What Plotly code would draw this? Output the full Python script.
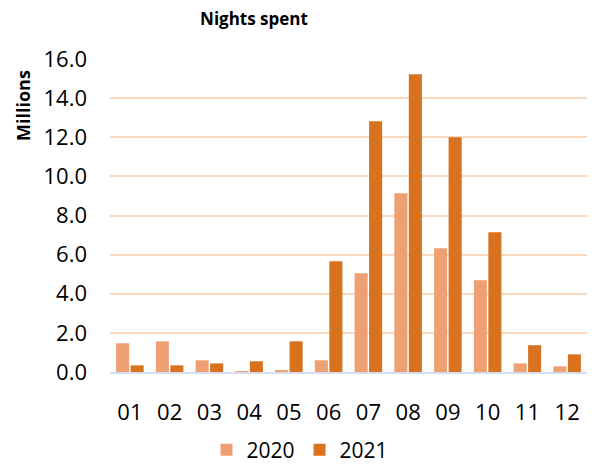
import plotly.graph_objects as go

months = ["01", "02", "03", "04", "05", "06", "07", "08", "09", "10", "11", "12"]
nights_2020 = [1.47, 1.57, 0.60, 0.04, 0.10, 0.60, 5.05, 9.14, 6.32, 4.69, 0.44, 0.29]
nights_2021 = [0.34, 0.34, 0.44, 0.55, 1.57, 5.66, 12.82, 15.22, 12.00, 7.14, 1.37, 0.90]
y_ticks = [0, 2, 4, 6, 8, 10, 12, 14, 16]

FONT = "Open Sans, sans-serif"

# the page body adds an 8px offset; work in window pixels and convert
OFF = 8
W, H = 598 - 2 * OFF, 472 - 2 * OFF
PL, PR, PT, PB = 110, 587, 59, 372          # plot area in window pixels
L, R, T, B = PL - OFF, W - (PR - OFF), PT - OFF, H - (PB - OFF)
PW, PH = W - L - R, H - T - B


def px(xw):
    return (xw - PL) / PW


def py(yw):
    return (PB - yw) / PH


fig = go.Figure()
fig.add_trace(go.Bar(x=months, y=nights_2020, name="2020",
                     marker=dict(color="#EFA073", line=dict(width=0))))
fig.add_trace(go.Bar(x=months, y=nights_2021, name="2021",
                     marker=dict(color="#D9721F", line=dict(width=0))))

fig.update_layout(
    width=W, height=H,
    margin=dict(l=L, r=R, t=T, b=B, autoexpand=False),
    paper_bgcolor="white", plot_bgcolor="white",
    font=dict(family=FONT, color="#000000"),
    barmode="group", bargap=0.27, bargroupgap=0.1,
    title=dict(text="<b>Nights spent</b>", x=(254 - OFF) / W, xref="container", xanchor="center",
               y=1 - (19 - OFF) / H, yref="container", yanchor="middle",
               font=dict(size=17, family=FONT)),
    legend=dict(orientation="h", x=px(300), xanchor="center",
                y=py(450), yanchor="middle",
                font=dict(size=21, family=FONT), itemwidth=30,
                traceorder="normal"),
    showlegend=True,
)
fig.update_yaxes(range=[0, 16], tickvals=y_ticks, tickformat=".1f",
                 showgrid=True, gridcolor="#FBD9BE", gridwidth=2,
                 zeroline=False, showline=False, ticks="",
                 ticklabelstandoff=22, automargin=False,
                 tickfont=dict(size=22, family=FONT))
fig.update_xaxes(showline=True, linecolor="#D3DFEE", linewidth=2,
                 showgrid=False, ticks="", ticklabelstandoff=20, automargin=False,
                 tickfont=dict(size=22, family=FONT))
fig.add_annotation(text="<b>Millions</b>", textangle=-90, xref="paper", yref="paper",
                   x=px(23), xanchor="center",
                   y=py(106), yanchor="middle",
                   showarrow=False, font=dict(size=18, family=FONT))

fig.write_html("out.html")
